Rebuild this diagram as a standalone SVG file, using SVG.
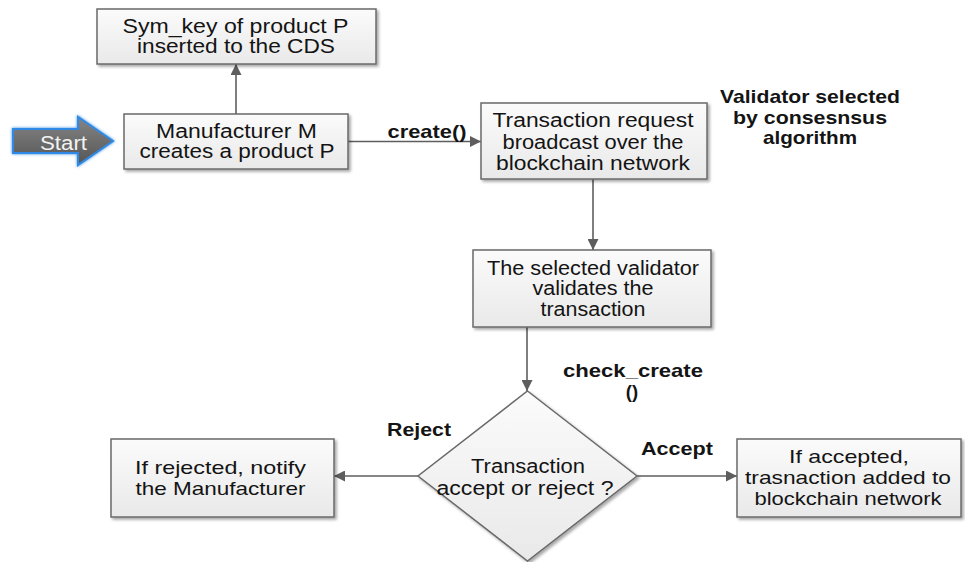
<svg xmlns="http://www.w3.org/2000/svg" width="965" height="562" viewBox="0 0 965 562">
  <style>
    .box { fill: url(#boxFill); stroke: #6a6a6a; stroke-width: 1.5; filter: url(#shadow); }
    .txt { font-family: "Liberation Sans", Arial, sans-serif; font-size: 19.5px; fill: #141414; text-anchor: middle; }
    .sm { font-size: 18.5px; }
    .lbl { font-family: "Liberation Sans", Arial, sans-serif; font-size: 18.5px; font-weight: bold; fill: #141414; text-anchor: middle; }
    .edge { fill: none; stroke: #5e5e5e; stroke-width: 1.6; marker-end: url(#arrow); }
  </style>
  <defs>
    <linearGradient id="boxFill" x1="0" y1="0" x2="0" y2="1">
      <stop offset="0" stop-color="#fbfbfb"/>
      <stop offset="1" stop-color="#e9e9e9"/>
    </linearGradient>
    <linearGradient id="startFill" x1="0" y1="0" x2="0" y2="1">
      <stop offset="0" stop-color="#858585"/>
      <stop offset="1" stop-color="#555555"/>
    </linearGradient>
    <filter id="shadow" x="-10%" y="-10%" width="130%" height="140%">
      <feGaussianBlur in="SourceAlpha" stdDeviation="1.5"/>
      <feOffset dx="2" dy="2" result="off"/>
      <feComponentTransfer><feFuncA type="linear" slope="0.35"/></feComponentTransfer>
      <feMerge><feMergeNode/><feMergeNode in="SourceGraphic"/></feMerge>
    </filter>
    <filter id="glow" x="-20%" y="-30%" width="140%" height="160%">
      <feGaussianBlur in="SourceGraphic" stdDeviation="1.8" result="b"/>
      <feMerge><feMergeNode in="b"/><feMergeNode in="SourceGraphic"/></feMerge>
    </filter>
    <marker id="arrow" viewBox="0 0 10 10" refX="10" refY="5" markerWidth="11" markerHeight="11" markerUnits="userSpaceOnUse" orient="auto">
      <path d="M0,0 L10,5 L0,10 Z" fill="#5e5e5e"/>
    </marker>
  </defs>

  <rect width="965" height="562" fill="#ffffff"/>

  <!-- connectors and their labels -->
  <g id="connectors">
    <path class="edge" d="M236,114 L236,64"/>
    <path class="edge" d="M348,141.5 L481,141.5"/>
    <path class="edge" d="M593,179 L593,250"/>
    <path class="edge" d="M527,327 L527,391"/>
    <path class="edge" d="M418,476 L334,476"/>
    <path class="edge" d="M637,476 L737,476"/>
    <text class="lbl" x="427" y="138" textLength="79" lengthAdjust="spacingAndGlyphs">create()</text>
    <text class="lbl" x="633" y="377" textLength="140" lengthAdjust="spacingAndGlyphs">check_create</text>
    <text class="lbl" x="632" y="398">()</text>
    <text class="lbl" x="419" y="436" textLength="64" lengthAdjust="spacingAndGlyphs">Reject</text>
    <text class="lbl" x="677" y="455" textLength="72" lengthAdjust="spacingAndGlyphs">Accept</text>
  </g>

  <!-- start arrow -->
  <g id="start">
    <path d="M13,129 L78,129 L78,117 L113,141 L78,165 L78,153 L13,153 Z" fill="url(#startFill)" stroke="#2f8ae6" stroke-width="2" filter="url(#glow)"/>
    <text class="txt" x="63.5" y="150" style="fill:#f2f2f2" textLength="47" lengthAdjust="spacingAndGlyphs">Start</text>
  </g>

  <g id="symkey">
    <rect class="box" x="97" y="9" width="279" height="55"/>
    <text class="txt" x="235.5" y="33" textLength="226" lengthAdjust="spacingAndGlyphs">Sym_key of product P</text>
    <text class="txt" x="236" y="53" textLength="198" lengthAdjust="spacingAndGlyphs">inserted to the CDS</text>
  </g>

  <g id="manufacturer">
    <rect class="box" x="124" y="114" width="224" height="55"/>
    <text class="txt" x="236.5" y="138" textLength="161" lengthAdjust="spacingAndGlyphs">Manufacturer M</text>
    <text class="txt" x="237" y="158" textLength="195" lengthAdjust="spacingAndGlyphs">creates a product P</text>
  </g>

  <g id="request">
    <rect class="box" x="481" y="103" width="226" height="76"/>
    <text class="txt" x="593" y="127" textLength="201" lengthAdjust="spacingAndGlyphs">Transaction request</text>
    <text class="txt" x="593" y="149" textLength="181" lengthAdjust="spacingAndGlyphs">broadcast over the</text>
    <text class="txt" x="593" y="170" textLength="194" lengthAdjust="spacingAndGlyphs">blockchain network</text>
  </g>

  <g id="validator-note">
    <text class="lbl" x="810" y="103" textLength="180" lengthAdjust="spacingAndGlyphs">Validator selected</text>
    <text class="lbl" x="810" y="124" textLength="154" lengthAdjust="spacingAndGlyphs">by consesnsus</text>
    <text class="lbl" x="810" y="144" textLength="94" lengthAdjust="spacingAndGlyphs">algorithm</text>
  </g>

  <g id="validate">
    <rect class="box" x="473" y="250" width="238" height="77"/>
    <text class="txt" x="593" y="275" textLength="212" lengthAdjust="spacingAndGlyphs">The selected validator</text>
    <text class="txt" x="593" y="295" textLength="121" lengthAdjust="spacingAndGlyphs">validates the</text>
    <text class="txt" x="593" y="316" textLength="105" lengthAdjust="spacingAndGlyphs">transaction</text>
  </g>

  <g id="decision">
    <path class="box" d="M527.5,391 L637,476 L527.5,561 L418,476 Z"/>
    <text class="txt" x="528" y="473" textLength="114" lengthAdjust="spacingAndGlyphs">Transaction</text>
    <text class="txt" x="525" y="495" textLength="177" lengthAdjust="spacingAndGlyphs">accept or reject ?</text>
  </g>

  <g id="rejected">
    <rect class="box" x="111" y="439" width="223" height="78"/>
    <text class="txt sm" x="220.5" y="474" textLength="171" lengthAdjust="spacingAndGlyphs">If rejected, notify</text>
    <text class="txt sm" x="220.5" y="495" textLength="170" lengthAdjust="spacingAndGlyphs">the Manufacturer</text>
  </g>

  <g id="accepted">
    <rect class="box" x="737" y="439" width="224" height="78"/>
    <text class="txt sm" x="849" y="463" textLength="120" lengthAdjust="spacingAndGlyphs">If accepted,</text>
    <text class="txt sm" x="848" y="484" textLength="206" lengthAdjust="spacingAndGlyphs">trasnaction added to</text>
    <text class="txt sm" x="848" y="505" textLength="187" lengthAdjust="spacingAndGlyphs">blockchain network</text>
  </g>
</svg>
